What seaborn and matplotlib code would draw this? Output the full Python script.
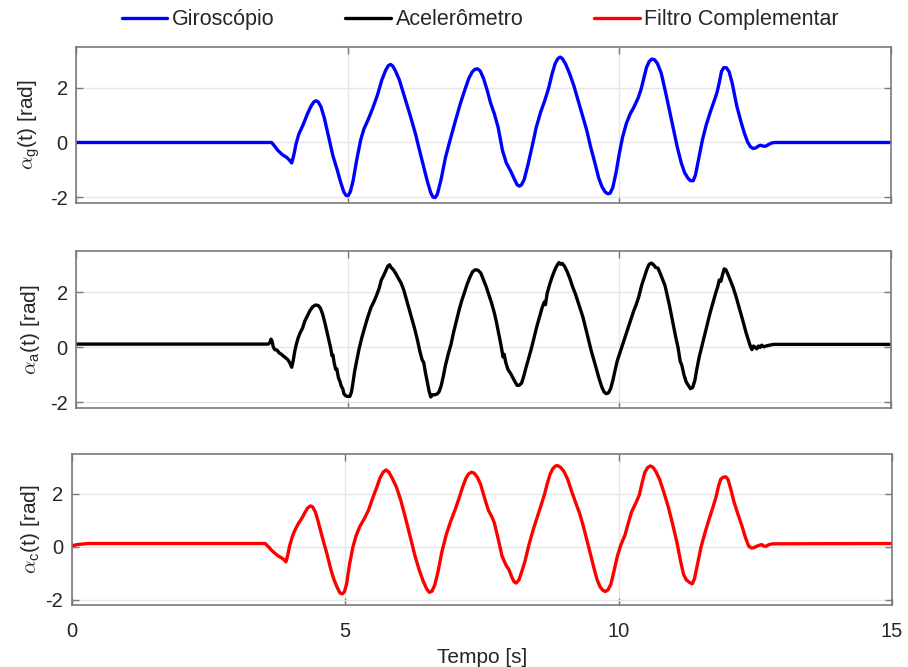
import numpy as np
import pandas as pd
import matplotlib
matplotlib.use('Agg')
import matplotlib.pyplot as plt
import seaborn as sns

# Giroscopio: (tempo [s], angulo [rad])
t_g = [0.0, 3.60, 3.65, 3.72, 3.80, 3.88, 3.93, 3.97, 4.01, 4.05, 4.10, 4.18, 4.26, 4.33, 4.38,
       4.42, 4.46, 4.51, 4.57, 4.65, 4.73, 4.80, 4.87, 4.93, 4.97, 5.01, 5.05, 5.10, 5.17, 5.24,
       5.30, 5.38, 5.46, 5.55, 5.63, 5.70, 5.75, 5.79, 5.83, 5.88, 5.95, 6.05, 6.15, 6.25, 6.33,
       6.40, 6.47, 6.53, 6.57, 6.61, 6.65, 6.72, 6.80, 6.88, 6.97, 7.07, 7.16, 7.23, 7.29, 7.34,
       7.39, 7.44, 7.50, 7.57, 7.63, 7.70, 7.77, 7.85, 7.92, 8.00, 8.07, 8.12, 8.16, 8.20, 8.25,
       8.32, 8.40, 8.47, 8.55, 8.63, 8.70, 8.76, 8.82, 8.87, 8.91, 8.95, 9.01, 9.08, 9.16, 9.24,
       9.32, 9.40, 9.47, 9.55, 9.62, 9.68, 9.74, 9.79, 9.83, 9.88, 9.94, 10.00, 10.06, 10.13,
       10.20, 10.27, 10.35, 10.40, 10.45, 10.50, 10.55, 10.60, 10.65, 10.70, 10.77, 10.85, 10.93,
       11.00, 11.07, 11.14, 11.20, 11.26, 11.31, 11.36, 11.40, 11.46, 11.53, 11.60, 11.68, 11.75,
       11.80, 11.84, 11.88, 11.92, 11.97, 12.02, 12.08, 12.16, 12.24, 12.30, 12.36, 12.41, 12.46,
       12.51, 12.56, 12.60, 12.64, 12.69, 12.75, 12.80, 12.86, 15.0]
a_g = [0.0, 0.0, -0.12, -0.30, -0.45, -0.55, -0.65, -0.75, -0.45, -0.05, 0.30, 0.65, 1.05, 1.35, 1.49,
       1.53, 1.48, 1.30, 0.90, 0.20, -0.50, -0.95, -1.45, -1.82, -1.94, -1.95, -1.80, -1.40, -0.60, 0.10,
       0.50, 0.85, 1.25, 1.75, 2.30, 2.65, 2.82, 2.86, 2.80, 2.62, 2.30, 1.65, 1.00, 0.30, -0.35,
       -0.90, -1.45, -1.85, -2.00, -2.02, -1.90, -1.35, -0.55, 0.05, 0.70, 1.40, 1.95, 2.35, 2.58, 2.68,
       2.70, 2.62, 2.35, 1.90, 1.45, 1.05, 0.55, -0.30, -0.75, -1.05, -1.35, -1.55, -1.60, -1.55, -1.35,
       -0.80, -0.10, 0.55, 1.10, 1.55, 2.00, 2.50, 2.90, 3.08, 3.13, 3.08, 2.88, 2.55, 2.10, 1.55,
       1.00, 0.45, -0.15, -0.75, -1.30, -1.62, -1.82, -1.88, -1.86, -1.65, -1.10, -0.40, 0.20, 0.70,
       1.05, 1.30, 1.65, 1.95, 2.35, 2.75, 2.97, 3.06, 3.03, 2.90, 2.55, 1.85, 1.10,
       0.45, -0.20, -0.75, -1.10, -1.30, -1.40, -1.40, -1.20, -0.60, 0.10, 0.65, 1.15, 1.55,
       1.85, 2.20, 2.60, 2.74, 2.74, 2.60, 2.15, 1.35, 0.75, 0.35, 0.02, -0.15, -0.22,
       -0.20, -0.13, -0.10, -0.13, -0.14, -0.07, -0.02, 0.0, 0.0]

# Acelerometro
t_a = [0.0, 3.54, 3.57, 3.59, 3.61, 3.63, 3.66, 3.70, 3.74, 3.78, 3.82, 3.86, 3.90, 3.94, 3.97,
       4.00, 4.03, 4.06, 4.09, 4.13, 4.17, 4.21, 4.26, 4.31, 4.36, 4.41, 4.46, 4.50, 4.54, 4.58,
       4.62, 4.66, 4.69, 4.71, 4.73, 4.75, 4.78, 4.80, 4.83, 4.86, 4.88, 4.91, 4.93, 4.96, 5.00,
       5.04, 5.07, 5.10, 5.13, 5.17, 5.21, 5.26, 5.31, 5.37, 5.43, 5.48, 5.53, 5.58, 5.62, 5.66,
       5.70, 5.74, 5.77, 5.80, 5.84, 5.88, 5.93, 5.98, 6.03, 6.08, 6.13, 6.18, 6.23, 6.28, 6.33,
       6.37, 6.40, 6.43, 6.47, 6.50, 6.53, 6.56, 6.60, 6.64, 6.68, 6.72, 6.76, 6.80, 6.85, 6.90,
       6.95, 7.00, 7.05, 7.10, 7.15, 7.20, 7.25, 7.30, 7.35, 7.40, 7.45, 7.50, 7.55, 7.60, 7.65,
       7.70, 7.74, 7.78, 7.82, 7.86, 7.88, 7.91, 7.95, 8.00, 8.04, 8.08, 8.12, 8.16, 8.20, 8.24,
       8.28, 8.33, 8.38, 8.43, 8.48, 8.53, 8.58, 8.62, 8.64, 8.67, 8.72, 8.77, 8.82, 8.86, 8.89,
       8.92, 8.95, 8.99, 9.04, 9.09, 9.14, 9.19, 9.24, 9.29, 9.33, 9.38, 9.43, 9.48, 9.53, 9.58,
       9.63, 9.68, 9.72, 9.76, 9.80, 9.84, 9.88, 9.92, 9.96, 10.01, 10.06, 10.11, 10.16, 10.21,
       10.26, 10.31, 10.36, 10.41, 10.46, 10.51, 10.55, 10.59, 10.63, 10.67, 10.71, 10.75, 10.80,
       10.84, 10.88, 10.92, 10.96, 11.00, 11.04, 11.08, 11.12, 11.15, 11.19, 11.23, 11.27, 11.31,
       11.35, 11.39, 11.43, 11.47, 11.52, 11.57, 11.62, 11.67, 11.72, 11.77, 11.81, 11.84, 11.87,
       11.90, 11.93, 11.96, 12.00, 12.04, 12.09, 12.14, 12.19, 12.24, 12.29, 12.33, 12.37, 12.41,
       12.44, 12.47, 12.50, 12.53, 12.56, 12.59, 12.62, 12.66, 12.70, 12.76, 12.84, 15.0]
a_a = [0.12, 0.12, 0.18, 0.30, 0.22, 0.02, -0.08, -0.10, -0.20, -0.25, -0.32, -0.38, -0.45, -0.58, -0.72,
       -0.45, -0.10, 0.15, 0.35, 0.55, 0.70, 0.95, 1.15, 1.35, 1.48, 1.54, 1.52, 1.42, 1.20, 0.90,
       0.55, 0.20, -0.05, -0.30, -0.28, -0.55, -0.80, -0.78, -1.10, -1.25, -1.40, -1.50, -1.68, -1.75, -1.78,
       -1.78, -1.62, -1.25, -0.85, -0.45, -0.05, 0.35, 0.70, 1.10, 1.45, 1.65, 1.88, 2.15, 2.45, 2.60,
       2.78, 2.95, 3.00, 2.90, 2.82, 2.70, 2.52, 2.35, 2.10, 1.75, 1.40, 1.05, 0.70, 0.30, -0.15,
       -0.45, -0.55, -0.90, -1.30, -1.60, -1.80, -1.72, -1.72, -1.70, -1.62, -1.40, -1.05, -0.65, -0.25, 0.10,
       0.55, 0.95, 1.35, 1.70, 2.00, 2.30, 2.55, 2.75, 2.82, 2.80, 2.70, 2.45, 2.20, 1.90, 1.60,
       1.25, 0.90, 0.50, 0.10, -0.35, -0.25, -0.55, -0.80, -0.95, -1.10, -1.25, -1.38, -1.37, -1.30, -1.05,
       -0.75, -0.40, -0.05, 0.35, 0.75, 1.10, 1.45, 1.65, 1.55, 1.95, 2.30, 2.60, 2.85, 3.00, 3.08,
       3.02, 3.05, 2.95, 2.75, 2.50, 2.20, 1.95, 1.65, 1.35, 1.10, 0.70, 0.30, -0.10, -0.45, -0.80,
       -1.15, -1.45, -1.62, -1.68, -1.65, -1.50, -1.20, -0.85, -0.50, -0.20, 0.10, 0.40, 0.70, 1.00,
       1.30, 1.55, 1.85, 2.25, 2.55, 2.85, 3.02, 3.06, 3.00, 2.90, 2.88, 2.70, 2.45,
       2.25, 1.90, 1.55, 1.15, 0.75, 0.35, 0.00, -0.50, -0.65, -1.00, -1.25, -1.38, -1.50,
       -1.45, -1.20, -0.75, -0.35, 0.05, 0.45, 0.85, 1.25, 1.60, 1.95, 2.20, 2.45, 2.40,
       2.65, 2.85, 2.82, 2.65, 2.45, 2.20, 1.90, 1.55, 1.20, 0.85, 0.55, 0.30, 0.05,
       -0.08, 0.05, 0.00, -0.05, 0.05, 0.00, 0.08, 0.02, 0.05, 0.08, 0.11, 0.11]

# Filtro Complementar
t_c = [0.0, 0.10, 0.30, 3.54, 3.60, 3.66, 3.72, 3.78, 3.84, 3.89, 3.92, 3.95, 3.99, 4.04, 4.09,
       4.15, 4.21, 4.27, 4.32, 4.37, 4.41, 4.46, 4.51, 4.56, 4.62, 4.68, 4.74, 4.80, 4.86, 4.91,
       4.95, 4.99, 5.03, 5.08, 5.14, 5.20, 5.27, 5.35, 5.43, 5.50, 5.58, 5.64, 5.70, 5.75, 5.80,
       5.86, 5.94, 6.02, 6.10, 6.19, 6.28, 6.36, 6.43, 6.49, 6.54, 6.59, 6.64, 6.70, 6.77, 6.85,
       6.93, 7.01, 7.08, 7.15, 7.21, 7.26, 7.31, 7.36, 7.42, 7.48, 7.55, 7.62, 7.68, 7.73, 7.80,
       7.87, 7.94, 8.00, 8.05, 8.09, 8.13, 8.18, 8.23, 8.29, 8.36, 8.44, 8.52, 8.59, 8.65, 8.70,
       8.75, 8.80, 8.85, 8.89, 8.94, 9.00, 9.07, 9.15, 9.22, 9.29, 9.36, 9.42, 9.49, 9.55, 9.61,
       9.66, 9.71, 9.76, 9.81, 9.86, 9.92, 9.98, 10.04, 10.12, 10.18, 10.24, 10.31, 10.38, 10.43,
       10.48, 10.53, 10.58, 10.63, 10.68, 10.75, 10.83, 10.91, 10.99, 11.07, 11.13, 11.19, 11.24,
       11.30, 11.35, 11.39, 11.44, 11.51, 11.58, 11.65, 11.72, 11.78, 11.83, 11.87, 11.91, 11.96,
       12.00, 12.05, 12.11, 12.18, 12.26, 12.32, 12.38, 12.43, 12.48, 12.53, 12.58, 12.62, 12.66,
       12.70, 12.75, 12.82, 15.0]
a_c = [0.03, 0.08, 0.12, 0.12, 0.00, -0.14, -0.25, -0.35, -0.42, -0.50, -0.57, -0.35, 0.05, 0.40, 0.65,
       0.88, 1.07, 1.30, 1.47, 1.54, 1.50, 1.30, 0.95, 0.55, 0.10, -0.35, -0.85, -1.25, -1.55, -1.75,
       -1.78, -1.70, -1.40, -0.70, -0.05, 0.40, 0.76, 1.05, 1.38, 1.80, 2.24, 2.60, 2.82, 2.90, 2.82,
       2.60, 2.25, 1.75, 1.13, 0.40, -0.35, -0.90, -1.30, -1.58, -1.72, -1.68, -1.45, -0.95, -0.20, 0.45,
       0.95, 1.38, 1.80, 2.25, 2.58, 2.75, 2.81, 2.78, 2.62, 2.35, 1.85, 1.38, 1.15, 0.90, 0.30,
       -0.35, -0.68, -0.88, -1.15, -1.32, -1.37, -1.25, -0.95, -0.55, 0.05, 0.64, 1.15, 1.60, 2.00, 2.40,
       2.74, 2.95, 3.05, 3.06, 3.00, 2.85, 2.55, 2.05, 1.65, 1.25, 0.75, 0.27, -0.30, -0.80, -1.25,
       -1.50, -1.64, -1.69, -1.62, -1.42, -0.90, -0.35, 0.05, 0.45, 0.90, 1.32, 1.62, 1.95, 2.40,
       2.80, 2.98, 3.05, 3.00, 2.85, 2.55, 2.05, 1.50, 0.85, 0.15, -0.50, -1.05, -1.25,
       -1.35, -1.40, -1.20, -0.70, 0.00, 0.52, 1.00, 1.45, 1.85, 2.30, 2.55, 2.62, 2.64,
       2.55, 2.20, 1.70, 1.25, 0.76, 0.35, 0.02, -0.05, -0.03, 0.02, 0.06, 0.08, 0.02,
       0.02, 0.08, 0.11, 0.12]

series = [
    (t_g, a_g, '#0000FF', 'Giroscópio', r'$\alpha_{\mathregular{g}}$(t) [rad]'),
    (t_a, a_a, '#000000', 'Acelerômetro', r'$\alpha_{\mathregular{a}}$(t) [rad]'),
    (t_c, a_c, '#FF0000', 'Filtro Complementar', r'$\alpha_{\mathregular{c}}$(t) [rad]'),
]

sns.set_theme(style='white')
plt.rcParams['font.family'] = ['Liberation Sans', 'DejaVu Sans']
plt.rcParams['mathtext.fontset'] = 'cm'
plt.rcParams['axes.unicode_minus'] = False

fig = plt.figure(figsize=(9.08, 6.67), dpi=100)
W, H = 908, 667
# axes boxes in pixels: left, top, right, bottom
px_boxes = [(76, 47, 891, 202.5), (76, 251, 891, 408), (71.5, 454, 892, 605)]

txt = '#262626'
edge = '#7a7a7a'
handles = []
for i, (tt, vv, col, name, ylab) in enumerate(series):
    l, t, r, b = px_boxes[i]
    ax = fig.add_axes([l / W, 1 - b / H, (r - l) / W, (b - t) / H])
    df = pd.DataFrame({'t': tt, 'v': vv})
    sns.lineplot(data=df, x='t', y='v', ax=ax, color=col, linewidth=2.4, sort=False,
                 estimator=None, label=name, legend=False)
    handles.append(ax.get_lines()[0])
    ax.set_xlim(0, 15)
    ax.set_ylim(-2.2, 3.5)
    ax.set_xticks([0, 5, 10, 15])
    ax.set_yticks([-2, 0, 2])
    ax.grid(True, color='#e6e6e6', linewidth=1.0)
    ax.set_axisbelow(True)
    for s in ax.spines.values():
        s.set_color(edge)
        s.set_linewidth(1.2)
    ax.tick_params(direction='in', length=5, width=1, color=edge, labelcolor=txt,
                   labelsize=14.5, top=True, right=True, bottom=True, left=True)
    ax.tick_params(axis='y', pad=6)
    ax.tick_params(axis='x', pad=12)
    ax.set_ylabel(ylab, fontsize=15, color=txt)
    ax.yaxis.set_label_coords((42 - l) / (r - l), 0.5)
    if i < 2:
        ax.set_xlabel('')
        ax.tick_params(labelbottom=False)
    else:
        ax.set_xlabel('Tempo [s]', fontsize=15, color=txt, labelpad=5)

fig.legend(handles=handles, labels=[s[3] for s in series], loc='upper center',
           bbox_to_anchor=(0.529, 1.015), ncol=3, frameon=False, fontsize=15.5,
           handlelength=2.1, handletextpad=0.23, columnspacing=3.3)

fig.savefig('out.png', dpi=100)
